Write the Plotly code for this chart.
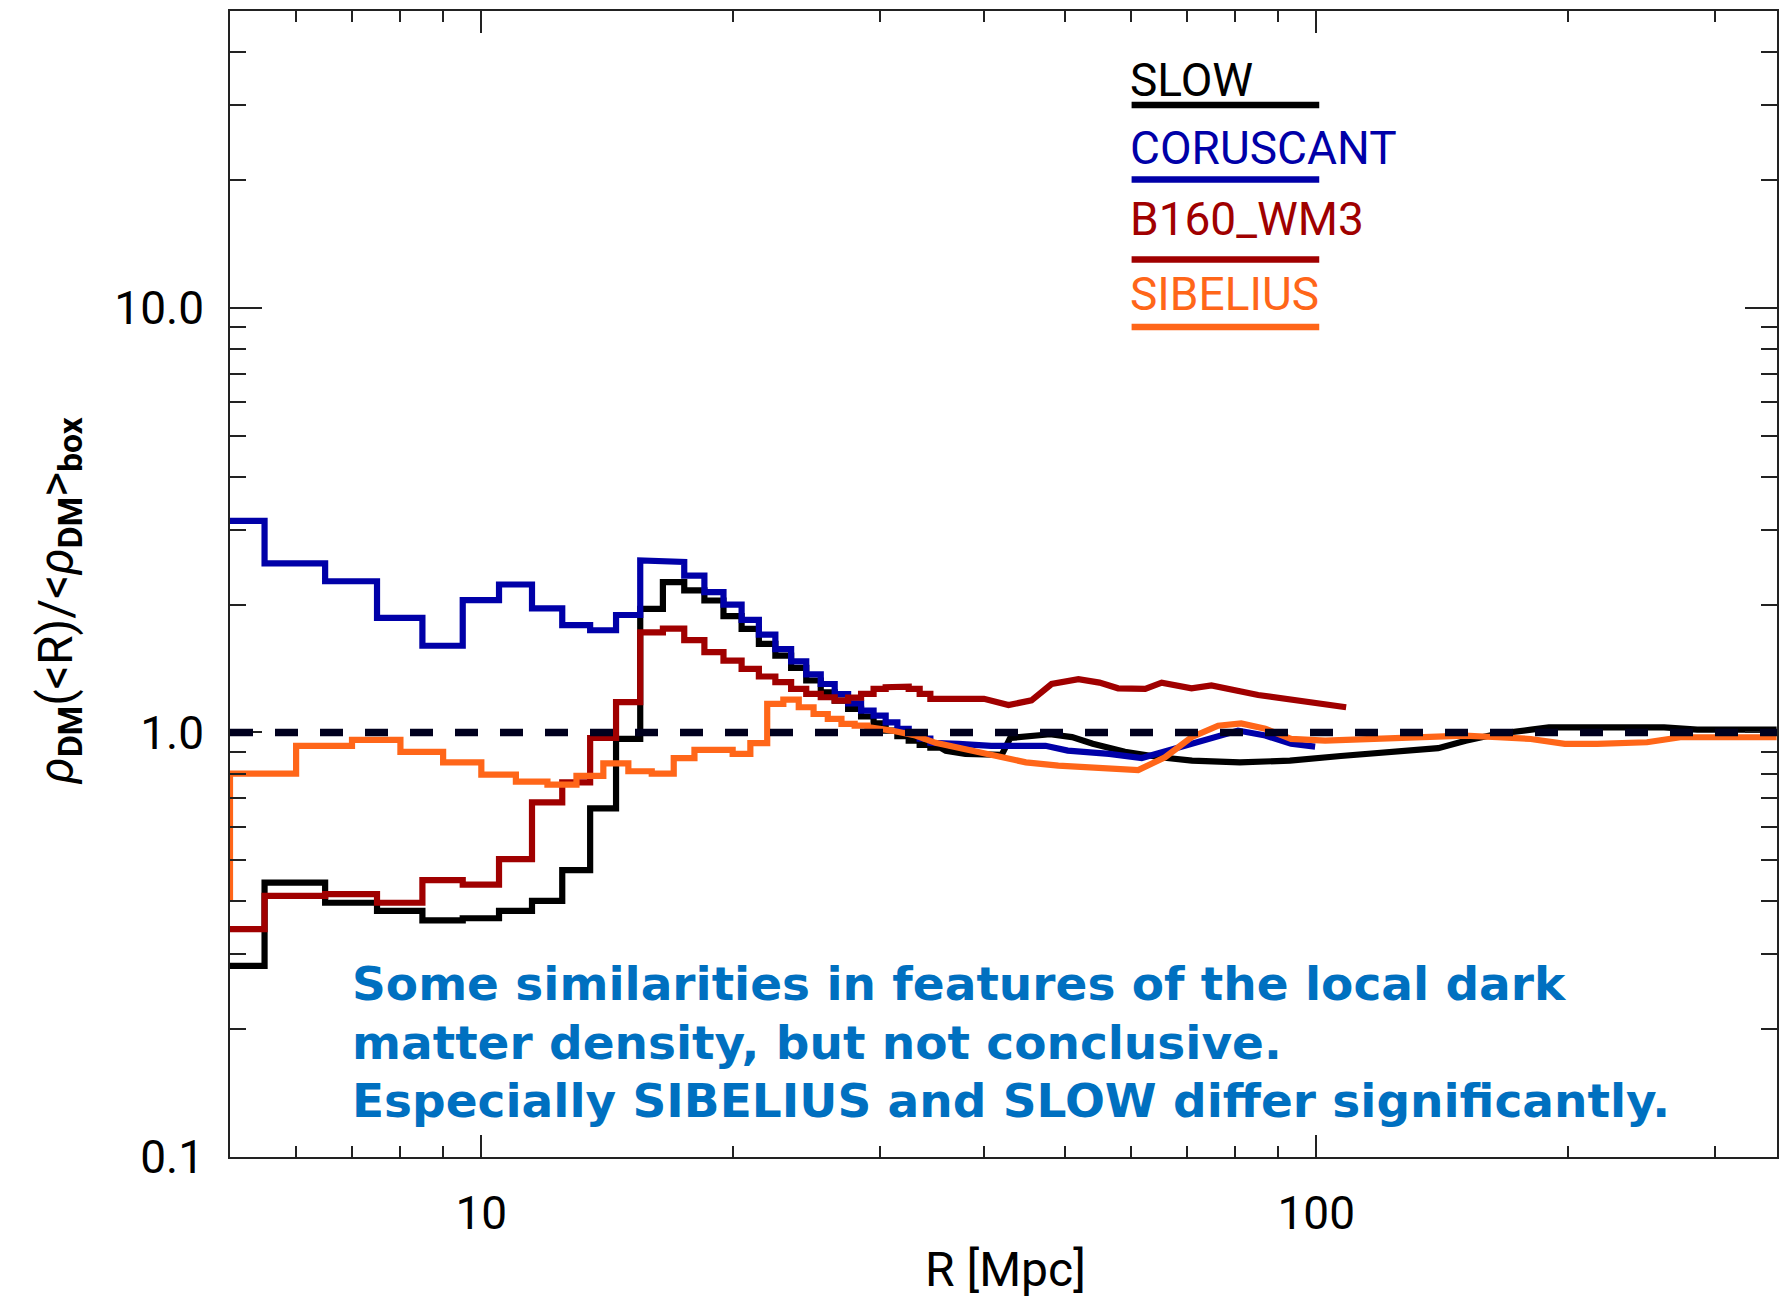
import plotly.graph_objects as go

# ---------------------------------------------------------------------------
# Radial dark-matter density profiles, rho_DM(<R) / <rho_DM>_box
# ---------------------------------------------------------------------------

# 1-Mpc bins centred on integer radii (SLOW, CORUSCANT, B160_WM3)
R_BIN = list(range(5, 36))

slow_bin = [0.282, 0.443, 0.397, 0.380, 0.361, 0.365, 0.380, 0.401, 0.474, 0.662,
            0.965, 1.955, 2.26, 2.16, 2.045, 1.878, 1.754, 1.617, 1.517, 1.419,
            1.325, 1.243, 1.188, 1.136, 1.09, 1.05, 1.01, 0.98, 0.956, 0.935, 0.92]

coruscant_bin = [3.15, 2.50, 2.27, 1.86, 1.60, 2.05, 2.23, 1.96, 1.79, 1.74,
                 1.89, 2.54, 2.52, 2.34, 2.14, 2.00, 1.84, 1.70, 1.57, 1.47,
                 1.37, 1.30, 1.23, 1.17, 1.125, 1.095, 1.056, 1.02, 0.993, 0.967, 0.945]

b160_bin = [0.344, 0.412, 0.416, 0.397, 0.449, 0.438, 0.503, 0.684, 0.763, 0.970,
            1.178, 1.72, 1.755, 1.65, 1.545, 1.476, 1.412, 1.354, 1.313, 1.266,
            1.232, 1.21, 1.188, 1.208, 1.232, 1.266, 1.278, 1.282, 1.266, 1.232, 1.20]

# SIBELIUS bins run between integer radii (left edges)
R_BIN_SIB = list(range(4, 29))
sibelius_bin = [0.41, 0.80, 0.93, 0.96, 0.90, 0.85, 0.795, 0.766, 0.753, 0.79,
                0.845, 0.81, 0.80, 0.87, 0.91, 0.91, 0.89, 0.943, 1.167, 1.195,
                1.146, 1.105, 1.076, 1.047, 1.037]

# Outer profiles (fine radial sampling)
slow_r = [36, 38, 42, 43, 48, 51, 54, 59, 65, 71, 81, 93, 107, 123, 140, 151,
          165, 181, 190, 217, 261, 286, 356]
slow_val = [0.905, 0.89, 0.885, 0.97, 0.99, 0.975, 0.94, 0.90, 0.874, 0.858, 0.85,
            0.858, 0.88, 0.898, 0.918, 0.956, 0.993, 1.015, 1.028, 1.028, 1.028,
            1.015, 1.015]

coruscant_r = [37.3, 40.8, 47.4, 50.4, 56.5, 61.8, 67.8, 74.5, 80.6, 86.9, 93.3, 99.7]
coruscant_val = [0.94, 0.93, 0.93, 0.906, 0.89, 0.87, 0.915, 0.966, 1.01, 0.983,
                 0.94, 0.926]

b160_r = [36, 40, 42.8, 45.6, 48.2, 51.9, 55, 57.9, 62.4, 65.3, 70.9, 74.9,
          85.2, 97.8, 108.6]
b160_val = [1.2, 1.2, 1.16, 1.19, 1.30, 1.335, 1.31, 1.27, 1.266, 1.31, 1.27,
            1.29, 1.225, 1.18, 1.146]

sibelius_r = [29, 31, 33, 35, 37.3, 40.8, 44.9, 49.1, 53.8, 59.1, 61.2, 65.9,
              70.9, 76.3, 81.3, 86.9, 93.3, 102.5, 117.7, 128.8, 140, 150.7,
              165, 180.7, 198.5, 217, 249, 273, 313, 356]
sibelius_val = [1.03, 1.01, 0.985, 0.945, 0.92, 0.89, 0.85, 0.835, 0.827, 0.813,
                0.815, 0.874, 0.974, 1.037, 1.05, 1.02, 0.965, 0.956, 0.965,
                0.974, 0.976, 0.983, 0.974, 0.965, 0.94, 0.94, 0.948, 0.974,
                0.974, 0.974]

NAMES = ["SLOW", "CORUSCANT", "B160_WM3", "SIBELIUS"]
COLORS = ["#000000", "#0000A8", "#A00000", "#FF6619"]

X_TICKS = [10, 100]
X_TICKTEXT = ["10", "100"]
Y_TICKS = [0.1, 1, 10]
Y_TICKTEXT = ["0.1", "1.0", "10.0"]

TEXT_LINES = [
    "Some similarities in features of the local dark",
    "matter density, but not conclusive.",
    "Especially SIBELIUS and SLOW differ significantly.",
]


def steps(left_edges, width, values):
    """Histogram outline from bin left edges and values."""
    xs, ys = [], []
    for x0, v in zip(left_edges, values):
        xs += [x0, x0 + width]
        ys += [v, v]
    return xs, ys


def profile(left_edges, width, bins, tail_r, tail_v):
    xs, ys = steps(left_edges, width, bins)
    return xs + list(tail_r), ys + list(tail_v)


centred_left = [c - 0.5 for c in R_BIN]
series = [
    profile(centred_left, 1.0, slow_bin, slow_r, slow_val),
    profile(centred_left, 1.0, coruscant_bin, coruscant_r, coruscant_val),
    profile(centred_left, 1.0, b160_bin, b160_r, b160_val),
    profile(R_BIN_SIB, 1.0, sibelius_bin, sibelius_r, sibelius_val),
]

fig = go.Figure()
for (xs, ys), name, col in zip(series, NAMES, COLORS):
    fig.add_trace(go.Scatter(x=xs, y=ys, mode="lines", name=name,
                             line=dict(color=col, width=6.2),
                             showlegend=False, hoverinfo="skip"))

# unit-density reference line
fig.add_shape(type="line", xref="paper", x0=0, x1=1, yref="y", y0=1, y1=1,
              line=dict(color="#00001E", width=7.5, dash="23px,22px"), layer="above")

# legend: label with a coloured bar underneath
label_y = [0.9398, 0.8805, 0.8185, 0.7531]
bar_y = [0.918, 0.853, 0.7832, 0.7243]
for name, col, ty, by in zip(NAMES, COLORS, label_y, bar_y):
    fig.add_annotation(text=name, xref="paper", yref="paper", x=0.5808, y=ty,
                       xanchor="left", yanchor="middle", showarrow=False,
                       font=dict(family="Roboto, Arial, sans-serif", size=46, color=col))
    fig.add_shape(type="line", xref="paper", yref="paper", x0=0.5828, x1=0.7041,
                  y0=by, y1=by, line=dict(color=col, width=6.5))

# comment text
for line, ty in zip(TEXT_LINES, [0.151, 0.0995, 0.0489]):
    fig.add_annotation(text="<b>%s</b>" % line, xref="paper", yref="paper",
                       x=0.0775, y=ty, xanchor="left", yanchor="middle",
                       showarrow=False,
                       font=dict(family="DejaVu Sans, Arial, sans-serif", size=47,
                                 color="#0070C0"))

# axis titles
fig.add_annotation(text="R [Mpc]", xref="paper", yref="paper", x=0.501, y=-0.0986,
                   xanchor="center", yanchor="middle", showarrow=False,
                   font=dict(family="Roboto, Arial, sans-serif", size=48, color="#000"))
fig.add_annotation(
    text="<i>ρ</i><sub><b>DM</b></sub>(&lt;R)/&lt;<i>ρ</i><sub><b>DM</b></sub>&gt;<sub><b>box</b></sub>",
    xref="paper", yref="paper", x=-0.111, y=0.485, textangle=-90,
    xanchor="center", yanchor="middle", showarrow=False,
    font=dict(family="Roboto, Arial, sans-serif", size=48, color="#000"))

axis_common = dict(type="log", showline=True, linecolor="#222", linewidth=1.5,
                   mirror="ticks", ticks="inside", tickwidth=1.5, tickcolor="#222",
                   showgrid=False, zeroline=False,
                   tickfont=dict(family="Roboto, Arial, sans-serif", size=46, color="#000"))

x_minor = [v * d for d in (1, 10, 100) for v in range(2, 10) if 5 < v * d < 360]
y_minor = [v * d for d in (0.1, 1, 10) for v in range(2, 10) if v * d < 50]

fig.update_xaxes(**axis_common, range=[0.69897, 2.5519], ticklen=22,
                 tickvals=X_TICKS, ticktext=X_TICKTEXT, ticklabelstandoff=15,
                 minor=dict(ticks="inside", ticklen=11, tickwidth=1.5,
                            tickcolor="#222", tickvals=x_minor, showgrid=False))
fig.update_yaxes(**axis_common, range=[-1, 1.699], ticklen=32,
                 tickvals=Y_TICKS, ticktext=Y_TICKTEXT, ticklabelstandoff=15,
                 minor=dict(ticks="inside", ticklen=16, tickwidth=1.5,
                            tickcolor="#222", tickvals=y_minor, showgrid=False))

fig.update_layout(width=1779, height=1299,
                  margin=dict(l=230, r=0, t=11, b=142, pad=0),
                  plot_bgcolor="white", paper_bgcolor="white",
                  font=dict(family="Roboto, Arial, sans-serif"))

fig.write_html("out.html")
